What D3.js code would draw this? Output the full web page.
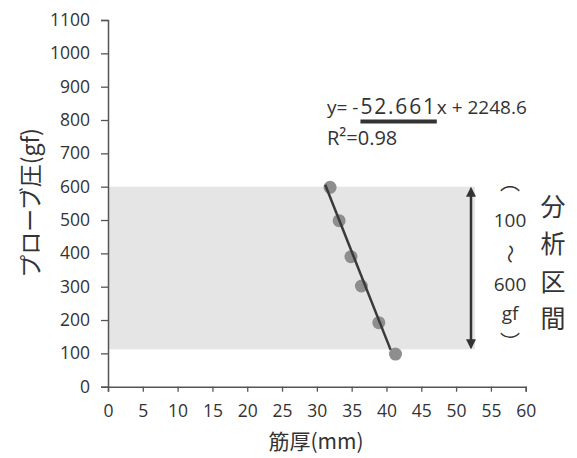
<!DOCTYPE html>
<html>
<head>
<meta charset="utf-8">
<script src="https://cdn.jsdelivr.net/npm/d3@7"></script>
<style>
  body { margin: 0; background: #fff; }
  text { font-family: "Noto Sans CJK JP", "Noto Sans", sans-serif; fill: #333; }
</style>
</head>
<body>
<div id="chart"></div>
<script>
// data
var thickness = [31.9, 33.2, 34.9, 36.4, 38.9, 41.3];
var pressure = [598, 498, 390, 302, 192, 98];
var xTicks = [0, 5, 10, 15, 20, 25, 30, 35, 40, 45, 50, 55, 60];
var yTicks = [0, 100, 200, 300, 400, 500, 600, 700, 800, 900, 1000, 1100];
var band = [0, 52.7, 112, 600];      // x0, x1, y0, y1
var fitSlope = -52.661, fitIntercept = 2248.6;
var fitRange = [31.2, 40.6];

var width = 577, height = 458;
var numFont = "'Open Sans', 'Noto Sans', sans-serif";

var svg = d3.select("#chart").append("svg")
    .attr("width", width).attr("height", height);

var x = d3.scaleLinear().domain([0, 60]).range([108, 525.7]);
var y = d3.scaleLinear().domain([0, 1100]).range([386.7, 20]);

// shaded analysis interval
svg.append("rect")
    .attr("x", x(band[0]))
    .attr("y", y(band[3]))
    .attr("width", x(band[1]) - x(band[0]))
    .attr("height", y(band[2]) - y(band[3]))
    .attr("fill", "#e5e5e5");

// axes
var xAxis = svg.append("g")
    .attr("transform", "translate(0," + y(0) + ")")
    .call(d3.axisBottom(x).tickValues(xTicks).tickFormat(d3.format("d"))
        .tickSize(5).tickPadding(13));
var yAxis = svg.append("g")
    .attr("transform", "translate(" + x(0) + ",0)")
    .call(d3.axisLeft(y).tickValues(yTicks).tickFormat(d3.format("d"))
        .tickSize(7).tickPadding(11));

[xAxis, yAxis].forEach(function (g) {
    g.select(".domain").attr("stroke", "#555").attr("stroke-width", 1.5);
    g.selectAll(".tick line").attr("stroke", "#555").attr("stroke-width", 1.3);
    g.selectAll(".tick text")
        .style("font-family", numFont)
        .style("font-size", "17.5px")
        .style("fill", "#333");
});

// points
svg.selectAll("circle.pt")
    .data(thickness)
    .enter().append("circle")
    .attr("class", "pt")
    .attr("cx", function (d) { return x(d); })
    .attr("cy", function (d, i) { return y(pressure[i]); })
    .attr("r", 6.5)
    .attr("fill", "#8e8e8e");

// trend line (drawn over the points)
svg.append("line")
    .attr("x1", x(fitRange[0]))
    .attr("y1", y(fitSlope * fitRange[0] + fitIntercept))
    .attr("x2", x(fitRange[1]))
    .attr("y2", y(fitSlope * fitRange[1] + fitIntercept))
    .attr("stroke", "#3a3a3a")
    .attr("stroke-width", 2.5);

// equation, coefficient a little larger as in the figure
var eq = svg.append("text")
    .attr("x", 327).attr("y", 113.5)
    .style("font-family", numFont)
    .style("font-size", "19px");
eq.append("tspan").text("y= -");
var coef = eq.append("tspan")
    .attr("dx", 2)
    .style("font-size", "21px")
    .style("letter-spacing", "1.8px")
    .text("52.661");
eq.append("tspan").text("x + 2248.6");

svg.append("text")
    .attr("x", 327).attr("y", 145)
    .style("font-family", numFont)
    .style("font-size", "20px")
    .text("R²=0.98");

var cNode = coef.node();
var cx0 = cNode.getStartPositionOfChar(0).x;
var cx1 = cNode.getEndPositionOfChar(cNode.getNumberOfChars() - 1).x;
svg.append("line")
    .attr("x1", cx0).attr("x2", cx1)
    .attr("y1", 121.5).attr("y2", 121.5)
    .attr("stroke", "#333").attr("stroke-width", 4);

// double arrow
svg.append("defs").selectAll("marker")
    .data(["start", "end"])
    .enter().append("marker")
    .attr("id", function (d) { return "arr-" + d; })
    .attr("viewBox", "0 0 10 10")
    .attr("refX", 5).attr("refY", 5)
    .attr("markerWidth", 4).attr("markerHeight", 4)
    .attr("orient", "auto-start-reverse")
    .append("path")
    .attr("d", "M0,0 L10,5 L0,10 Z")
    .attr("fill", "#333");

svg.append("line")
    .attr("x1", 471).attr("x2", 471)
    .attr("y1", y(600) + 5).attr("y2", y(band[2]) - 5)
    .attr("stroke", "#333").attr("stroke-width", 2.5)
    .attr("marker-start", "url(#arr-start)")
    .attr("marker-end", "url(#arr-end)");

// vertical annotation: (100 ~ 600 gf)
var bracketCol = [
    { t: "︵", y: 190, s: 20 },
    { t: "100", y: 227, s: 19 },
    { t: "～", y: 261, s: 19, rot: true },
    { t: "600", y: 291, s: 19 },
    { t: "gf", y: 320, s: 19 },
    { t: "︶", y: 350, s: 20 }
];
bracketCol.forEach(function (d) {
    var t = svg.append("text")
        .attr("x", 510).attr("y", d.y)
        .attr("text-anchor", "middle")
        .style("font-family", d.t.length > 1 ? numFont : null)
        .style("font-size", d.s + "px")
        .text(d.t);
    if (d.rot) t.attr("transform", "rotate(90,510," + (d.y - 7) + ")");
});

var sideLabel = ["分", "析", "区", "間"];
svg.selectAll("text.side")
    .data(sideLabel)
    .enter().append("text")
    .attr("class", "side")
    .attr("x", 553)
    .attr("y", function (d, i) { return 215.5 + i * 37.5; })
    .attr("text-anchor", "middle")
    .style("font-size", "25px")
    .text(function (d) { return d; });

// axis titles
svg.append("text")
    .attr("x", 316).attr("y", 449)
    .attr("text-anchor", "middle")
    .style("font-size", "21px")
    .text("筋厚(mm)");
svg.append("text")
    .attr("transform", "translate(39,203) rotate(-90)")
    .attr("text-anchor", "middle")
    .style("font-size", "23px")
    .text("プローブ圧(gf)");
</script>
</body>
</html>
